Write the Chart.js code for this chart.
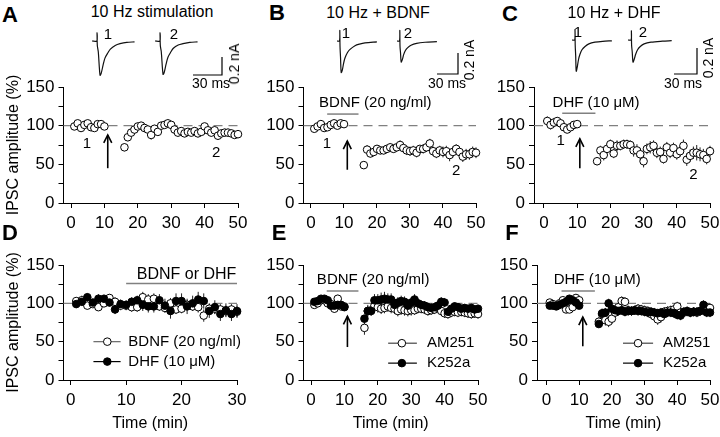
<!DOCTYPE html>
<html><head><meta charset="utf-8">
<script src="https://cdn.jsdelivr.net/npm/chart.js@4.4.1/dist/chart.umd.min.js"></script>
<style>
body{margin:0;background:#fff}
#wrap{position:relative;width:720px;height:437px;overflow:hidden;background:#fff;font-family:"Liberation Sans",Arial,sans-serif;color:#000}
canvas{position:absolute}
.t{position:absolute;white-space:nowrap;line-height:1;transform:translate(-50%,-50%)}
.L{font-weight:bold;font-size:22px}
.ti{font-size:16px}
.n{font-size:15px}
.s{font-size:14px}
.r{transform:translate(-50%,-50%) rotate(-90deg)}
</style></head><body><div id="wrap"></div>
<script>
// ---------- data ----------
const TIME_PP = [1,2,3,4,5,6,7,8,9,10,16,17,18,19,20,21,22,23,24,25,26,27,28,29,30,31,32,33,34,35,36,37,38,39,40,41,42,43,44,45,46,47,48,49,50];
const TIME_D = [1,2,3,4,5,6,7,8,9,10,11,12,13,14,15,16,17,18,19,20,21,22,23,24,25,26,27,28,29,30];

const A_VAL = [99,103,97,101,103,98,97,102,102,99, 72,85,91,95,99,100,97,95,88,96,92,100,101,103,101,95,91,93,90,92,91,93,90,92,99,94,91,94,87,90,91,91,90,88,89];
const A_ERR = [2,3,2,2,3,2,2,3,2,2, 5,5,5,4,4,4,5,5,6,5,5,5,5,5,4,4,5,5,5,5,4,5,5,4,4,5,5,5,5,5,5,5,5,4,4];
const B_VAL = [96,99,102,97,98,101,103,100,103,102, 49,69,64,66,70,68,68,70,72,70,72,75,71,68,67,68,65,70,70,72,77,67,64,68,66,67,62,66,70,66,60,63,63,66,65];
const B_ERR = [3,3,3,3,3,3,4,3,3,3, 4,6,5,5,5,5,5,5,5,5,5,6,5,6,6,6,6,5,6,6,6,6,6,6,7,7,8,7,6,6,7,7,7,7,7];
const C_VAL = [106,101,104,106,103,98,95,98,101,102, 54,68,62,70,76,64,74,74,76,76,75,68,68,63,54,70,72,74,65,66,57,72,65,71,63,67,74,56,61,65,65,63,62,57,67];
const C_ERR = [6,6,6,5,5,4,4,4,3,3, 5,6,7,6,6,6,7,6,6,6,6,8,8,8,8,7,8,7,7,7,6,7,7,7,7,7,8,8,8,8,10,9,8,7,7];

const D_BDNF_VAL = [103,104,97,99,95,100,107,102,97,97,95,95,108,105,106,96,94,100,92,93,98,96,95,84,93,93,92,90,92,89];
const D_BDNF_ERR = [5,6,5,5,5,5,5,6,6,6,6,6,7,7,7,6,6,7,6,6,6,6,7,8,7,7,7,7,7,7];
const D_DHF_VAL = [99,102,108,101,106,106,101,92,99,98,102,104,98,96,96,104,97,90,103,103,96,100,105,103,90,95,86,91,86,90];
const D_DHF_ERR = [5,5,5,5,6,5,5,6,6,6,6,6,8,8,8,8,9,10,10,10,10,10,10,10,9,9,9,9,9,9];

const E_AM_VAL = [98,100,104,104,100,99,93,106,96,96, 68,90,91,97,95,93,94,96,94,93,90,92,91,90,91,91,93,93,92,90,91,92,94,90,87,86,88,89,88,89,88,87,86,87,86];
const E_AM_ERR = [4,4,4,5,5,5,5,5,5,5, 9,8,7,7,7,7,7,7,7,7,7,7,7,7,7,6,6,6,6,6,6,6,6,6,6,6,6,6,6,6,6,6,6,6,6];
const E_K_VAL = [102,103,106,106,104,97,97,98,98,95, 80,90,90,104,104,105,106,105,105,98,101,103,102,97,101,105,100,98,97,95,94,95,97,102,101,89,93,96,95,93,94,93,94,92,93];
const E_K_ERR = [3,3,3,3,3,4,4,4,4,4, 5,6,6,8,8,9,9,8,8,7,7,7,7,7,7,7,6,6,6,6,6,6,6,6,6,5,5,5,5,5,5,5,5,5,5];

const F_AM_VAL = [101,99,97,100,104,92,92,95,107,104, 76,86,78,76,80,88,95,103,102,91,90,91,93,92,91,90,86,83,79,82,89,90,91,92,96,88,88,89,88,89,88,90,92,95,94];
const F_AM_ERR = [3,3,3,4,4,4,4,4,4,4, 6,7,7,7,7,6,6,6,6,6,6,6,6,6,6,6,6,6,7,7,6,6,6,6,6,6,6,6,6,6,6,6,6,6,6];
const F_K_VAL = [97,97,96,98,100,102,106,104,101,97, 73,87,88,100,93,91,90,91,89,90,90,91,90,90,89,88,89,88,87,88,86,88,88,87,85,84,89,90,88,89,89,90,98,88,88];
const F_K_ERR = [3,3,3,3,3,4,4,4,4,4, 5,6,6,6,6,6,6,6,6,6,6,6,6,6,6,6,6,6,6,6,6,6,6,6,6,6,6,6,6,6,6,6,6,6,6];

// example IPSC traces: [ms, nA]
const TR_A1 = [[0,0],[5,0],[5.2,0.09],[5.5,-0.05],[6.5,-0.12],[8.3,-0.38],[9.5,-0.36],[11.4,-0.27],[13.4,-0.19],[16.5,-0.13],[19,-0.09],[24,-0.05],[29,-0.03],[36,-0.015],[44,-0.01]];
const TR_A2 = [[0,0],[5,0],[5.2,0.09],[5.5,-0.05],[6.5,-0.12],[8.3,-0.37],[9.5,-0.35],[11.4,-0.26],[13.4,-0.18],[16.5,-0.12],[19,-0.08],[24,-0.045],[29,-0.03],[36,-0.015],[44,-0.01]];
const TR_B1 = [[0,0],[3.5,0],[4,0.1],[4.3,-0.05],[5,-0.15],[6,-0.30],[7.5,-0.28],[9.5,-0.21],[11.5,-0.16],[15,-0.11],[18.6,-0.08],[25.7,-0.045],[32,-0.03],[40,-0.018],[57,-0.008]];
const TR_B2 = [[0,0],[3.5,0],[4,0.1],[4.3,-0.05],[5,-0.11],[6,-0.20],[7.5,-0.18],[9.5,-0.13],[12,-0.09],[15,-0.065],[20,-0.04],[28,-0.022],[40,-0.012],[57,-0.006]];
const TR_C1 = [[0,0],[3.5,0],[3.9,0.08],[4.2,-0.04],[4.8,-0.12],[5.5,-0.24],[6.8,-0.21],[8.5,-0.15],[10.4,-0.11],[13,-0.075],[17,-0.05],[22,-0.03],[30,-0.017],[40,-0.01],[52,-0.006]];
const TR_C2 = [[0,0],[4,0],[4.4,0.07],[4.7,-0.04],[5.5,-0.09],[6.5,-0.17],[8,-0.15],[10,-0.11],[12.5,-0.075],[16,-0.05],[21,-0.03],[30,-0.017],[45,-0.009],[57,-0.005]];
const SCALE_MS = 30, SCALE_NA = 0.2;

const X_TICKS_50 = [0,10,20,30,40,50];
const X_TICKS_30 = [0,10,20,30];
const Y_TICKS = [0,25,50,75,100,125,150];
const Y_LABELED = [0,50,100,150];
const Y_TITLE = 'IPSC amplitude (%)';
const X_TITLE = 'Time (min)';

// ---------- helpers ----------
Chart.defaults.font.family = '"Liberation Sans", Arial, sans-serif';
Chart.defaults.color = '#000';
const wrap = document.getElementById('wrap');

function addText(cls, txt, x, y) {
  const d = document.createElement('div');
  d.className = 't ' + cls; d.textContent = txt;
  d.style.left = x + 'px'; d.style.top = y + 'px';
  wrap.appendChild(d);
}
function pts(xs, ys) { return xs.map((x, i) => ({x: x, y: ys[i]})); }

function marksPlugin(m) {
  return {
    id: 'marks',
    beforeDatasetsDraw(chart) {
      const ctx = chart.ctx, ys = chart.scales.y, a = chart.chartArea;
      ctx.save();
      ctx.strokeStyle = '#808080'; ctx.lineWidth = 1.2; ctx.setLineDash([9, 6]);
      ctx.beginPath(); const yr = ys.getPixelForValue(100);
      ctx.moveTo(a.left, yr); ctx.lineTo(a.right, yr); ctx.stroke();
      ctx.setLineDash([]);
      chart.data.datasets.forEach((ds, i) => {
        if (!ds.errs) return;
        const meta = chart.getDatasetMeta(i);
        ctx.strokeStyle = '#222'; ctx.lineWidth = 1;
        ds.data.forEach((p, j) => {
          const px = meta.data[j].x;
          ctx.beginPath();
          ctx.moveTo(px, ys.getPixelForValue(p.y - ds.errs[j]));
          ctx.lineTo(px, ys.getPixelForValue(p.y + ds.errs[j]));
          ctx.stroke();
        });
      });
      ctx.restore();
    },
    afterDatasetsDraw(chart) {
      const ctx = chart.ctx, xs = chart.scales.x, ys = chart.scales.y;
      const X = v => xs.getPixelForValue(v), Y = v => ys.getPixelForValue(v);
      ctx.save();
      if (m.bar) {
        ctx.strokeStyle = '#808080'; ctx.lineWidth = 1.5;
        ctx.beginPath(); ctx.moveTo(X(m.bar.x0), Y(m.bar.y)); ctx.lineTo(X(m.bar.x1), Y(m.bar.y)); ctx.stroke();
      }
      if (m.arrow) {
        const ax = X(m.arrow.x), y0 = Y(m.arrow.y0), y1 = Y(m.arrow.y1);
        ctx.strokeStyle = '#000'; ctx.lineWidth = 1.6;
        ctx.beginPath(); ctx.moveTo(ax, y0); ctx.lineTo(ax, y1); ctx.stroke();
        ctx.beginPath(); ctx.moveTo(ax - 4, y1 + 8); ctx.lineTo(ax, y1); ctx.lineTo(ax + 4, y1 + 8); ctx.stroke();
      }
      ctx.fillStyle = '#000'; ctx.textBaseline = 'middle';
      (m.texts || []).forEach(t => {
        ctx.font = (t.size || 15) + 'px "Liberation Sans", Arial, sans-serif';
        ctx.textAlign = t.align || 'center';
        ctx.fillText(t.s, X(t.x), Y(t.y));
      });
      (m.legend || []).forEach(l => {
        ctx.strokeStyle = l.line; ctx.lineWidth = 1.2;
        ctx.beginPath(); ctx.moveTo(X(l.x0), Y(l.y)); ctx.lineTo(X(l.x1), Y(l.y)); ctx.stroke();
        ctx.beginPath(); ctx.arc(X(l.xc), Y(l.y), 3.8, 0, Math.PI * 2);
        ctx.fillStyle = l.fill; ctx.fill(); ctx.strokeStyle = '#000'; ctx.lineWidth = 1; ctx.stroke();
        ctx.fillStyle = '#000'; ctx.font = '15px "Liberation Sans", Arial, sans-serif'; ctx.textAlign = 'left';
        ctx.fillText(l.s, X(l.tx), Y(l.y));
      });
      ctx.restore();
    }
  };
}

function openSet(xs, ys, errs) {
  return {data: pts(xs, ys), errs: errs, pointRadius: 3.8, pointBackgroundColor: '#fff', pointBorderColor: '#000', pointBorderWidth: 1, showLine: false, clip: false};
}
function filledSet(xs, ys, errs) {
  return {data: pts(xs, ys), errs: errs, pointRadius: 3.8, pointBackgroundColor: '#000', pointBorderColor: '#000', pointBorderWidth: 1, showLine: false, clip: false};
}

function panel(box, cfg) {
  const c = document.createElement('canvas');
  c.width = box.w; c.height = box.h;
  c.style.left = box.x + 'px'; c.style.top = box.y + 'px';
  wrap.appendChild(c);
  new Chart(c, {
    type: 'scatter',
    data: {datasets: cfg.datasets},
    options: {
      responsive: false, animation: false, events: [],
      layout: {padding: {top: box.padTop, right: box.padRight, left: 0, bottom: 0}},
      plugins: {legend: {display: false}, tooltip: {enabled: false}},
      scales: {
        x: {
          type: 'linear', min: cfg.xmin, max: cfg.xmax,
          afterBuildTicks: s => { s.ticks = cfg.xTicks.map(v => ({value: v})); },
          afterFit: s => { s.height = box.xH; s.paddingLeft = 0; s.paddingRight = 0; },
          ticks: {color: '#000', font: {size: 17}, padding: 5, maxRotation: 0, autoSkip: false},
          grid: {display: true, drawOnChartArea: false, drawTicks: true, tickLength: 5, color: '#000'},
          border: {display: true, color: '#000', width: 1},
          title: {display: !!cfg.xTitle, text: cfg.xTitle || '', color: '#000', font: {size: 16}, padding: {top: 2, bottom: 4}}
        },
        y: {
          type: 'linear', min: 0, max: 150,
          afterBuildTicks: s => { s.ticks = Y_TICKS.map(v => ({value: v})); },
          afterFit: s => { s.width = box.yW; s.paddingTop = 0; s.paddingBottom = 0; },
          ticks: {color: '#000', font: {size: 17}, padding: 4, autoSkip: false,
                  callback: v => Y_LABELED.includes(v) ? String(v) : ''},
          grid: {display: true, drawOnChartArea: false, drawTicks: true, tickLength: 5, color: '#000'},
          border: {display: true, color: '#000', width: 1},
          title: {display: !!cfg.yTitle, text: cfg.yTitle || '', color: '#000', font: {size: 16}, padding: {top: 4, bottom: 4}}
        }
      }
    },
    plugins: [marksPlugin(cfg.marks)]
  });
}

function inset(sp) {
  const c = document.createElement('canvas');
  c.width = sp.w; c.height = sp.h;
  c.style.left = sp.left + 'px'; c.style.top = sp.top + 'px';
  wrap.appendChild(c);
  const sets = sp.traces.map((tr, k) => {
    const off = (sp.starts[k] - sp.left) * sp.msPerPx;
    return {data: tr.map(p => ({x: p[0] + off, y: p[1]})), showLine: true, pointRadius: 0, borderColor: '#111', borderWidth: 1.2, tension: 0.3, clip: false};
  });
  const bx = (sp.barLeft - sp.left) * sp.msPerPx, by = -(sp.barY - sp.base) * sp.nAPerPx;
  sets.push({data: [{x: bx, y: by}, {x: bx + SCALE_MS, y: by}, {x: bx + SCALE_MS, y: by + SCALE_NA}], showLine: true, pointRadius: 0, borderColor: '#000', borderWidth: 1.2, tension: 0, clip: false});
  new Chart(c, {
    type: 'scatter', data: {datasets: sets},
    options: {
      responsive: false, animation: false, events: [],
      layout: {padding: 0},
      plugins: {legend: {display: false}, tooltip: {enabled: false}},
      scales: {
        x: {display: false, min: 0, max: sp.w * sp.msPerPx},
        y: {display: false, min: -(sp.top + sp.h - sp.base) * sp.nAPerPx, max: (sp.base - sp.top) * sp.nAPerPx}
      }
    }
  });
}

// ---------- insets ----------
inset({left: 85, top: 22, w: 145, h: 62, base: 41, msPerPx: 30 / 29, nAPerPx: 0.2 / 18, starts: [92, 155], traces: [TR_A1, TR_A2], barLeft: 193, barY: 75});
inset({left: 325, top: 22, w: 140, h: 62, base: 41, msPerPx: 30 / 21, nAPerPx: 0.2 / 21, starts: [337, 397], traces: [TR_B1, TR_B2], barLeft: 437, barY: 74});
inset({left: 560, top: 20, w: 145, h: 64, base: 40, msPerPx: 30 / 23, nAPerPx: 0.2 / 26, starts: [572, 628], traces: [TR_C1, TR_C2], barLeft: 674, barY: 74});

// ---------- main panels ----------
const TOP = {y: 60, h: 185, padTop: 27, xH: 42};
const BOT = {y: 240, h: 197, padTop: 25, xH: 57};

panel(Object.assign({x: 0, w: 250, yW: 63.5, padRight: 12}, TOP), {
  xmin: -2.25, xmax: 50, xTicks: X_TICKS_50, yTitle: Y_TITLE,
  datasets: [openSet(TIME_PP, A_VAL, A_ERR)],
  marks: {arrow: {x: 11, y0: 45, y1: 88}, texts: [{s: '1', x: 4.8, y: 77}, {s: '2', x: 43.5, y: 65}]}
});
panel(Object.assign({x: 240, w: 250, yW: 63.5, padRight: 14}, TOP), {
  xmin: -2.27, xmax: 50, xTicks: X_TICKS_50,
  datasets: [openSet(TIME_PP, B_VAL, B_ERR)],
  marks: {bar: {x0: 4.9, x1: 14.4, y: 115}, arrow: {x: 11, y0: 43, y1: 80},
          texts: [{s: 'BDNF (20 ng/ml)', x: 19.5, y: 129}, {s: '1', x: 4.8, y: 77}, {s: '2', x: 44, y: 41}]}
});
panel(Object.assign({x: 470, w: 250, yW: 64, padRight: 10}, TOP), {
  xmin: -3.0, xmax: 50, xTicks: X_TICKS_50,
  datasets: [openSet(TIME_PP, C_VAL, C_ERR)],
  marks: {bar: {x0: 5.5, x1: 15.5, y: 116}, arrow: {x: 10.8, y0: 45, y1: 83},
          texts: [{s: 'DHF (10 \u03bcM)', x: 15.7, y: 130}, {s: '1', x: 5, y: 80}, {s: '2', x: 45, y: 37}]}
});
panel(Object.assign({x: 0, w: 250, yW: 63.5, padRight: 13}, BOT), {
  xmin: -1.3, xmax: 30, xTicks: X_TICKS_30, yTitle: Y_TITLE, xTitle: X_TITLE,
  datasets: [filledSet(TIME_D, D_DHF_VAL, D_DHF_ERR), openSet(TIME_D, D_BDNF_VAL, D_BDNF_ERR)],
  marks: {bar: {x0: 10, x1: 30, y: 126},
          texts: [{s: 'BDNF or DHF', x: 20.9, y: 137, size: 16}],
          legend: [{x0: 4.1, x1: 9, xc: 6.6, tx: 10.4, y: 50, fill: '#fff', line: '#666', s: 'BDNF (20 ng/ml)'},
                   {x0: 4.1, x1: 9, xc: 6.6, tx: 10.4, y: 24, fill: '#000', line: '#000', s: 'DHF (10 \u03bcM)'}]}
});
panel(Object.assign({x: 240, w: 250, yW: 63.5, padRight: 12}, BOT), {
  xmin: -2.25, xmax: 50, xTicks: X_TICKS_50, xTitle: X_TITLE,
  datasets: [filledSet(TIME_PP, E_K_VAL, E_K_ERR), openSet(TIME_PP, E_AM_VAL, E_AM_ERR)],
  marks: {bar: {x0: 4.7, x1: 14.2, y: 116}, arrow: {x: 10.9, y0: 43, y1: 83},
          texts: [{s: 'BDNF (20 ng/ml)', x: 18.6, y: 130}],
          legend: [{x0: 23.1, x1: 31.7, xc: 27.2, tx: 34.7, y: 48, fill: '#fff', line: '#444', s: 'AM251'},
                   {x0: 23.1, x1: 31.7, xc: 27.2, tx: 34.7, y: 22, fill: '#000', line: '#000', s: 'K252a'}]}
});
panel(Object.assign({x: 470, w: 250, yW: 67, padRight: 10}, BOT), {
  xmin: -2.9, xmax: 50, xTicks: X_TICKS_50, xTitle: X_TITLE,
  datasets: [filledSet(TIME_PP, F_K_VAL, F_K_ERR), openSet(TIME_PP, F_AM_VAL, F_AM_ERR)],
  marks: {bar: {x0: 4.6, x1: 14.8, y: 116}, arrow: {x: 11.1, y0: 44, y1: 82},
          texts: [{s: 'DHF (10 \u03bcM)', x: 15.5, y: 130}],
          legend: [{x0: 23.4, x1: 32.6, xc: 28, tx: 35.6, y: 48, fill: '#fff', line: '#444', s: 'AM251'},
                   {x0: 23.4, x1: 32.6, xc: 28, tx: 35.6, y: 22, fill: '#000', line: '#000', s: 'K252a'}]}
});

// ---------- html text ----------
addText('L', 'A', 10, 15); addText('L', 'B', 277, 13); addText('L', 'C', 510, 14);
addText('L', 'D', 10, 233); addText('L', 'E', 279, 233); addText('L', 'F', 512, 233);
addText('ti', '10 Hz stimulation', 152, 12); addText('ti', '10 Hz + BDNF', 378, 13); addText('ti', '10 Hz + DHF', 614, 13);
addText('n', '1', 108, 33); addText('n', '2', 174, 33);
addText('n', '1', 346, 32); addText('n', '2', 408, 32);
addText('n', '1', 578, 31); addText('n', '2', 643, 31);
addText('s', '30 ms', 211, 83); addText('s', '30 ms', 447, 83); addText('s', '30 ms', 683, 83);
addText('s r', '0.2 nA', 234, 64); addText('s r', '0.2 nA', 469, 60); addText('s r', '0.2 nA', 708, 58);
</script></body></html>
